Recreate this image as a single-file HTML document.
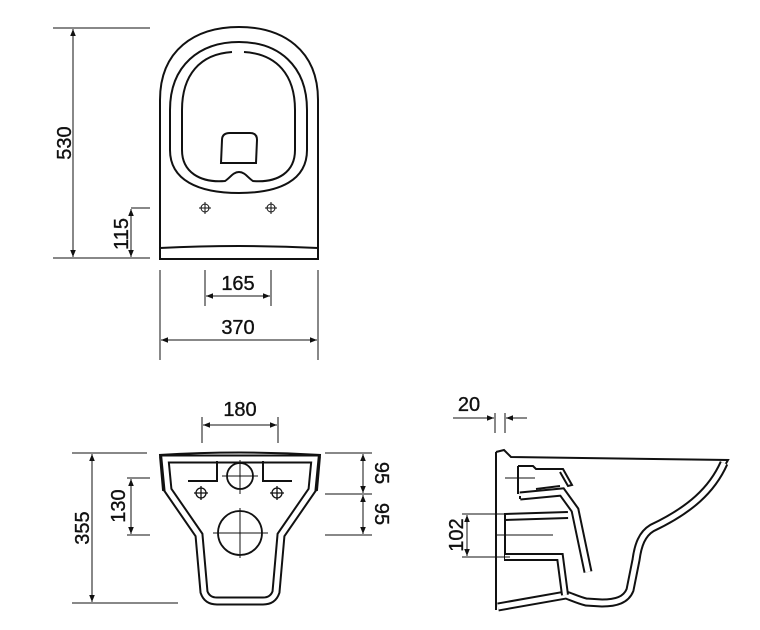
<!DOCTYPE html>
<html><head><meta charset="utf-8"><style>
html,body{margin:0;padding:0;background:#fff;}
svg{display:block;}
text{font-family:"Liberation Sans",sans-serif;font-size:20px;fill:#111;stroke:#111;stroke-width:0.35;}
</style></head><body>
<svg width="760" height="630" viewBox="0 0 760 630" xmlns="http://www.w3.org/2000/svg">
<defs>
<marker id="a" viewBox="0 0 10 10" refX="10" refY="5" markerWidth="9" markerHeight="7" orient="auto-start-reverse" markerUnits="userSpaceOnUse"><path d="M0 1 L10 5 L0 9 Z" fill="#111"/></marker>
</defs>
<g fill="none" stroke="#111">
<!-- ===== TOP VIEW ===== -->
<path d="M160 259 L160 100 C160 50 195 27 239 27 C283 27 318 50 318 100 L318 259 Z" stroke-width="2"/>
<path d="M160 248 Q239 244 318 248" stroke-width="2"/>
<path d="M170 110 C170 65 200 42 239 42 C278 42 307 65 307 110 L307 150 C307 180 280 193 239 193 C198 193 170 180 170 150 Z" stroke-width="2"/>
<path d="M232 52 C200 54 182 75 182 110 L182 150 C182 172 200 183 225 181 C230 178 233 172 239 172 C245 172 248 178 253 181 C278 183 295 172 295 150 L295 110 C295 75 277 54 244 52" stroke-width="2"/>
<path d="M222 140 Q222 133 230 133 L250 133 Q257 133 257 140 L256 163 L221 163 Z" stroke-width="2"/>
<g stroke-width="1"><circle cx="205" cy="208" r="4"/><path d="M199 208 H211 M205 202 V214"/>
<circle cx="271" cy="208" r="4"/><path d="M265 208 H277 M271 202 V214"/></g>
<!-- dims top -->
<g stroke-width="1">
<path d="M53 28 H150 M53 258 H150"/>
<path d="M73 29 V257" marker-start="url(#a)" marker-end="url(#a)"/>
<path d="M131 208 H150"/>
<path d="M131 209 V257" marker-start="url(#a)" marker-end="url(#a)"/>
<path d="M205 270 V306 M271 270 V306 M160 270 V360 M318 270 V360"/>
<path d="M206 296 H270" marker-start="url(#a)" marker-end="url(#a)"/>
<path d="M161 340 H317" marker-start="url(#a)" marker-end="url(#a)"/>
</g>
<!-- ===== BOTTOM VIEW ===== -->
<path d="M159 455 Q240 450 321 455" stroke-width="2"/>
<path d="M160 456 L163 490 L168 492 M320 456 L317 490 L312 492" stroke-width="2"/>
<path d="M165 459 L168 490 L199 535 L204 592 Q207 601 217 601 L263 601 Q273 601 276 592 L281 535 L312 490 L315 459 Z" stroke-width="9"/>
<path d="M165 459 L168 490 L199 535 L204 592 Q207 601 217 601 L263 601 Q273 601 276 592 L281 535 L312 490 L315 459 Z" stroke-width="5" stroke="#fff"/>
<path d="M188 481 H217 V461 M263 461 V481 H292" stroke-width="2"/>
<circle cx="240" cy="476" r="13" stroke-width="1.8"/>
<path d="M222 476 H258 M240 460 V494" stroke-width="1"/>
<g stroke-width="1.3"><circle cx="201" cy="493" r="5"/><path d="M194 493 H208 M201 486 V500"/>
<circle cx="277" cy="493" r="5"/><path d="M270 493 H284 M277 486 V500"/></g>
<circle cx="240" cy="533" r="22" stroke-width="1.8"/>
<path d="M213 533 H268 M240 508 V558" stroke-width="1"/>
<!-- dims bottom left -->
<g stroke-width="1">
<path d="M202 417 V443 M278 417 V443"/>
<path d="M203 425 H277" marker-start="url(#a)" marker-end="url(#a)"/>
<path d="M72 453 H147 M72 603 H178"/>
<path d="M92 454 V602" marker-start="url(#a)" marker-end="url(#a)"/>
<path d="M127 478 H150 M127 535 H150"/>
<path d="M131 479 V534" marker-start="url(#a)" marker-end="url(#a)"/>
<path d="M325 453 H372 M325 494 H372 M325 535 H372"/>
<path d="M363 454 V493" marker-start="url(#a)" marker-end="url(#a)"/>
<path d="M363 495 V534" marker-start="url(#a)" marker-end="url(#a)"/>
</g>
<!-- ===== SIDE VIEW ===== -->
<path d="M496 452 V610" stroke-width="2"/>
<path d="M496 452 L504 450 L511 457 L728 460 L720 474" stroke-width="2"/>
<path d="M724 463 C712 490 690 510 652 528 C642 534 638 545 636 560 L630 590 C626 600 616 603 602 603 L586 602 C578 600 572 597 566 595 L498 607" stroke-width="9"/>
<path d="M724 463 C712 490 690 510 652 528 C642 534 638 545 636 560 L630 590 C626 600 616 603 602 603 L586 602 C578 600 572 597 566 595 L498 607" stroke-width="5" stroke="#fff"/>
<path d="M518 466 L533 466 L536 469 L563 469 L572 485 L568 486 L560 472 M518 466 V494" stroke-width="2"/>
<path d="M520 496 L562 492 L575 510 L588 572" stroke-width="9"/>
<path d="M520 496 L562 492 L575 510 L588 572" stroke-width="5" stroke="#fff"/>
<path d="M520 496 L520 499 M536 489 L560 486" stroke-width="2"/>
<path d="M505 517 L568 515" stroke-width="8"/>
<path d="M505 517 L568 515" stroke-width="4" stroke="#fff"/>
<path d="M505 513 V561" stroke-width="2"/>
<path d="M505 557 L560 557 L565 595" stroke-width="8"/>
<path d="M505 557 L560 557 L565 595" stroke-width="4" stroke="#fff"/>
<path d="M505 478 H535 M497 535 H553" stroke-width="1"/>
<g stroke-width="1">
<path d="M495 413 V433 M505 413 V433"/>
<path d="M453 418 H494" marker-end="url(#a)"/>
<path d="M527 418 H506" marker-end="url(#a)"/>
<path d="M462 514 H510 M462 557 H510"/>
<path d="M467 515 V556" marker-start="url(#a)" marker-end="url(#a)"/>
</g>
</g>
<!-- texts -->
<text transform="translate(71,143) rotate(-90)" text-anchor="middle">530</text>
<text transform="translate(128,234) rotate(-90)" text-anchor="middle">115</text>
<text x="238" y="290" text-anchor="middle">165</text>
<text x="238" y="334" text-anchor="middle">370</text>
<text x="240" y="416" text-anchor="middle">180</text>
<text transform="translate(89,528) rotate(-90)" text-anchor="middle">355</text>
<text transform="translate(125,506) rotate(-90)" text-anchor="middle">130</text>
<text transform="translate(375,473) rotate(90)" text-anchor="middle">95</text>
<text transform="translate(375,514) rotate(90)" text-anchor="middle">95</text>
<text x="469" y="411" text-anchor="middle">20</text>
<text transform="translate(463,535) rotate(-90)" text-anchor="middle">102</text>
</svg>
</body></html>
